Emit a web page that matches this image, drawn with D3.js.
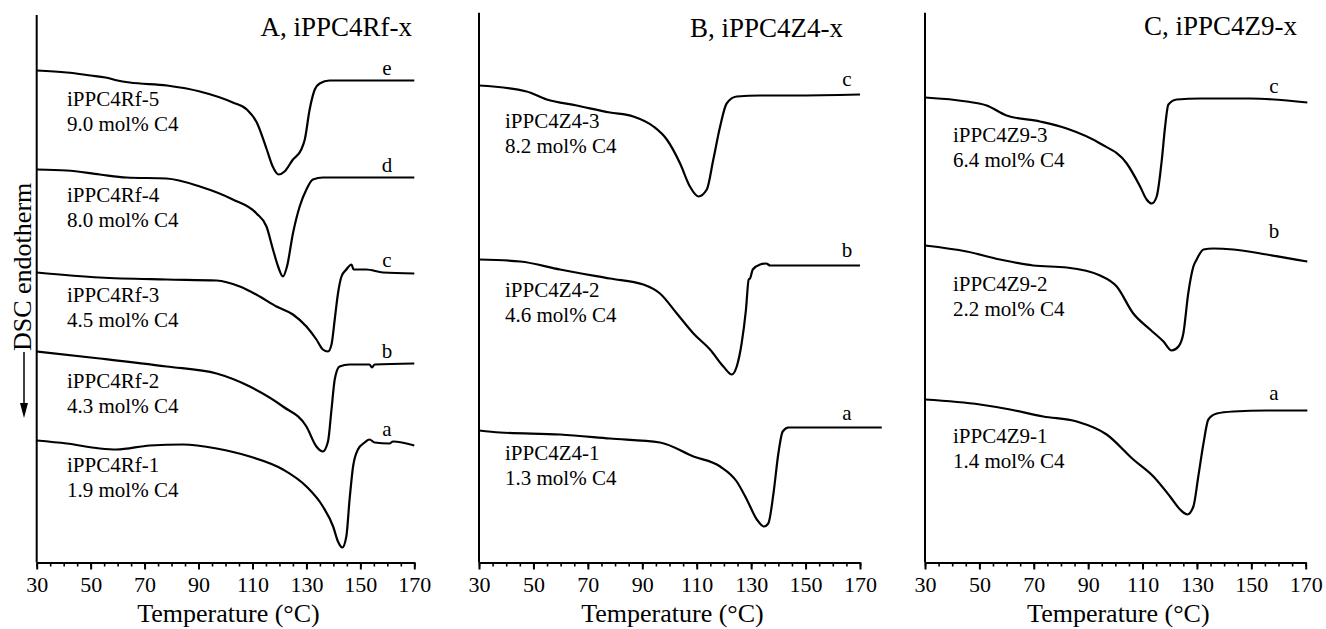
<!DOCTYPE html>
<html>
<head>
<meta charset="utf-8">
<script src="https://cdn.jsdelivr.net/npm/d3@7"></script>
<style>
  html, body { margin: 0; padding: 0; background: #fff; }
  svg { display: block; font-family: "Liberation Serif", "Times New Roman", serif; }
  svg text { font-family: "Liberation Serif", "Times New Roman", serif !important; fill: #000; }
</style>
</head>
<body>
<svg id="chart" width="1326" height="629"></svg>
<script>
// ---- DSC melting curves, heat flow in arbitrary units (stacked), vs temperature (°C)
const tempMajorTicks = [30, 50, 70, 90, 110, 130, 150, 170];
const tempMinorTicks = d3.range(30, 171, 5);
const panelTitles = ["A, iPPC4Rf-x", "B, iPPC4Z4-x", "C, iPPC4Z9-x"];
const xAxisTitle = "Temperature (°C)";
const yAxisTitle = "DSC endotherm";

// Panel A: iPPC4Rf series
const namesA = ["iPPC4Rf-5", "iPPC4Rf-4", "iPPC4Rf-3", "iPPC4Rf-2", "iPPC4Rf-1"];
const c4A = ["9.0 mol% C4", "8.0 mol% C4", "4.5 mol% C4", "4.3 mol% C4", "1.9 mol% C4"];
const lettersA = ["e", "d", "c", "b", "a"];
const rf5 = [[30,49.2],[41.1,49.0],[50.0,48.7],[55.5,48.5],[60.0,48.2],[64.5,48.0],[78.3,47.7],[90.5,47.1],[102.7,46.0],[107.9,45.3],[111.6,44.0],[115.3,41.3],[117.5,39.6],[119.7,38.8],[121.9,39.1],[125.0,40.3],[128.1,41.3],[129.4,42.3],[131.2,45.3],[133.1,47.3],[134.9,47.9],[138.6,48.2],[170,48.2]];
const rf4 = [[30,39.3],[41.1,39.2],[53.4,38.8],[63.3,38.5],[78.1,38.4],[90.5,37.6],[102.7,36.3],[111.5,34.9],[115.2,33.6],[117.6,31.3],[119.5,29.6],[121.3,28.6],[122.8,29.6],[125.0,32.9],[127.5,35.6],[130.0,37.3],[132.4,38.3],[136.1,38.5],[170,38.5]];
const rf3 = [[30,29.0],[53.4,28.5],[78.1,28.3],[96.7,28.2],[105.3,27.6],[112.7,26.6],[118.9,25.6],[125.0,24.8],[130.0,23.6],[133.7,22.3],[136.1,21.3],[138.0,21.1],[139.3,21.8],[140.5,24.3],[141.7,26.9],[143.0,28.6],[144.8,29.3],[146.7,29.8],[147.5,29.3],[152.2,29.3],[158.4,29.0],[170,28.9]];
const rf2 = [[30,21.1],[53.4,20.4],[78.1,19.6],[96.7,18.9],[109.0,17.6],[121.3,15.6],[130.0,13.6],[133.7,11.6],[136.1,11.1],[138.0,12.1],[139.3,15.3],[140.5,18.3],[142.3,19.6],[146.0,19.8],[153.4,19.8],[154.3,19.5],[155.3,19.8],[170,19.9]];
const rf1 = [[30,12.2],[41.1,11.9],[53.4,11.4],[59.6,11.3],[71.9,11.7],[84.3,11.8],[96.7,11.4],[109.0,10.6],[121.3,9.3],[130.0,7.6],[136.1,5.6],[139.9,3.6],[141.7,2.1],[143.3,1.5],[144.8,2.6],[146.0,6.3],[147.3,9.6],[149.1,11.3],[151.6,12.0],[153.4,12.3],[155.3,12.0],[160.8,11.9],[162.1,12.1],[170,11.7]];

// Panel B: iPPC4Z4 series
const namesB = ["iPPC4Z4-3", "iPPC4Z4-2", "iPPC4Z4-1"];
const c4B = ["8.2 mol% C4", "4.6 mol% C4", "1.3 mol% C4"];
const lettersB = ["c", "b", "a"];
const z4_3 = [[30,47.7],[47.5,47.1],[54.9,46.3],[65.9,45.7],[78.1,45.0],[86.7,44.6],[94.1,43.6],[99.0,42.3],[103.9,39.9],[107.5,37.6],[110.6,36.6],[113.7,37.3],[116.1,40.3],[118.6,43.6],[121.0,45.9],[124.7,46.6],[133.3,46.7],[145.5,46.7],[170,46.8]];
const z4_2 = [[30,30.3],[45.1,30.1],[59.8,29.3],[78.1,28.4],[90.4,27.8],[96.5,26.9],[102.7,24.9],[108.8,22.9],[114.9,21.3],[119.8,19.6],[122.9,18.8],[124.7,19.6],[126.5,21.9],[128.1,25.3],[129.1,28.3],[129.6,28.4],[130.6,29.3],[133.3,29.8],[135.5,29.9],[137.0,29.7],[170,29.7]];
const z4_1 = [[30,13.2],[37.7,13.0],[59.8,12.8],[78.1,12.4],[96.5,12.0],[108.8,10.6],[118.6,9.6],[124.7,8.1],[128.4,6.3],[132.1,4.3],[134.7,3.6],[136.3,3.9],[138.2,6.9],[140.0,10.9],[141.6,13.1],[143.7,13.5],[148.0,13.5],[157.8,13.5],[178,13.5]];

// Panel C: iPPC4Z9 series
const namesC = ["iPPC4Z9-3", "iPPC4Z9-2", "iPPC4Z9-1"];
const c4C = ["6.4 mol% C4", "2.2 mol% C4", "1.4 mol% C4"];
const lettersC = ["c", "b", "a"];
const z9_3 = [[30,46.5],[45.3,46.1],[52.7,45.7],[60.0,44.7],[72.3,44.1],[82.1,43.4],[94.4,41.9],[104.2,39.9],[109.1,37.6],[111.5,36.3],[113.4,35.9],[115.2,36.6],[117.1,40.3],[118.3,43.6],[119.5,45.8],[122.6,46.3],[131.2,46.4],[149.5,46.4],[170.6,46.0]];
const z9_2 = [[30,31.7],[45.3,31.1],[57.6,30.3],[69.8,29.7],[82.1,29.5],[94.4,28.7],[100.5,27.6],[106.6,24.9],[112.8,23.3],[117.7,22.1],[120.7,21.2],[123.2,21.6],[125.0,22.9],[126.8,26.9],[128.7,29.6],[129.9,30.3],[132.4,31.3],[136.0,31.4],[143.4,31.3],[155.7,30.8],[170.6,30.1]];
const z9_1 = [[30,16.3],[50.2,15.8],[61.3,15.3],[73.5,14.6],[85.8,14.1],[96.8,12.8],[106.6,10.3],[114.0,8.6],[120.1,6.6],[123.8,5.3],[126.5,4.8],[128.7,5.6],[130.5,8.6],[132.4,11.9],[134.2,14.3],[137.3,14.9],[143.4,15.1],[155.7,15.2],[170.6,15.2]];

// ---- layout (pixels) ----
const axisBottomY = 562.5;
const unitPx = 10; // pixels per heat-flow unit
const panelLayout = [
  { x0: 36.7, x1: 414.3, yTop: 15,   titleX: 412, titleY: 36,
    nameX: 67, nameY: [106, 201.7, 301.7, 388.3, 472.3], letterX: 387, letterY: [75, 171.5, 266.5, 357.5, 435.5] },
  { x0: 479,  x1: 860,   yTop: 12.7, titleX: 843, titleY: 37,
    nameX: 505, nameY: [128.3, 296.7, 460], letterX: 847, letterY: [86, 256.5, 420] },
  { x0: 925,  x1: 1305.7, yTop: 12.7, titleX: 1297, titleY: 35,
    nameX: 953, nameY: [141.7, 290.7, 442.7], letterX: 1274, letterY: [93.3, 238.3, 400] }
];

const panels = [
  { title: panelTitles[0], names: namesA, c4: c4A, letters: lettersA, curves: [rf5, rf4, rf3, rf2, rf1] },
  { title: panelTitles[1], names: namesB, c4: c4B, letters: lettersB, curves: [z4_3, z4_2, z4_1] },
  { title: panelTitles[2], names: namesC, c4: c4C, letters: lettersC, curves: [z9_3, z9_2, z9_1] }
];

const svg = d3.select("#chart");
const labelFont = 21, tickFont = 22, titleFont = 27, axisTitleFont = 26;

panels.forEach((p, i) => {
  const L = panelLayout[i];
  const x = d3.scaleLinear().domain([30, 170]).range([L.x0, L.x1]);
  const yMax = (axisBottomY - L.yTop) / unitPx;
  const y = d3.scaleLinear().domain([0, yMax]).range([axisBottomY, L.yTop]);
  const g = svg.append("g");

  // minor ticks
  g.append("g")
    .attr("transform", `translate(0,${axisBottomY})`)
    .call(d3.axisBottom(x).tickValues(tempMinorTicks).tickSize(4).tickFormat(""))
    .call(s => s.select(".domain").remove())
    .call(s => s.selectAll("line").attr("stroke", "#000").attr("stroke-width", 1.6));

  // major ticks and labels
  const ax = g.append("g")
    .attr("transform", `translate(0,${axisBottomY})`)
    .call(d3.axisBottom(x).tickValues(tempMajorTicks).tickSize(7).tickSizeOuter(0).tickPadding(7).tickFormat(d3.format("d")));
  ax.attr("font-family", null);
  ax.select(".domain").attr("stroke", "#000").attr("stroke-width", 2);
  ax.selectAll(".tick line").attr("stroke", "#000").attr("stroke-width", 2);
  ax.selectAll("text").attr("font-size", tickFont).attr("fill", "#000");

  // y axis line (no ticks)
  g.append("line")
    .attr("x1", x(30)).attr("x2", x(30))
    .attr("y1", y(0)).attr("y2", y(yMax))
    .attr("stroke", "#000").attr("stroke-width", 2);

  // x axis title
  g.append("text")
    .attr("x", (L.x0 + L.x1) / 2 + 3).attr("y", 622)
    .attr("text-anchor", "middle").attr("font-size", axisTitleFont)
    .text(xAxisTitle);

  // panel title
  g.append("text")
    .attr("x", L.titleX).attr("y", L.titleY)
    .attr("text-anchor", "end").attr("font-size", titleFont)
    .text(p.title);

  // curves
  const line = d3.line().x(d => x(d[0])).y(d => y(d[1])).curve(d3.curveMonotoneX);
  g.selectAll("path.curve").data(p.curves).join("path")
    .attr("class", "curve")
    .attr("d", line)
    .attr("fill", "none").attr("stroke", "#000").attr("stroke-width", 2.2)
    .attr("stroke-linejoin", "round");

  // sample names and compositions
  p.names.forEach((n, k) => {
    const t = g.append("text").attr("font-size", labelFont);
    t.append("tspan").attr("x", L.nameX).attr("y", L.nameY[k]).text(n);
    t.append("tspan").attr("x", L.nameX).attr("y", L.nameY[k] + 25).text(p.c4[k]);
  });

  // curve letters
  p.letters.forEach((c, k) => {
    g.append("text")
      .attr("x", L.letterX).attr("y", L.letterY[k])
      .attr("text-anchor", "middle").attr("font-size", labelFont)
      .text(c);
  });
});

// y axis title with downward arrow
const yt = svg.append("g");
yt.append("text")
  .attr("transform", "translate(31,351) rotate(-90)")
  .attr("font-size", 26)
  .text(yAxisTitle);
yt.append("line")
  .attr("x1", 24).attr("x2", 24).attr("y1", 352).attr("y2", 408)
  .attr("stroke", "#000").attr("stroke-width", 1.5);
yt.append("path")
  .attr("d", "M20,403 L28,403 L24,418 Z")
  .attr("fill", "#000");
</script>
</body>
</html>
